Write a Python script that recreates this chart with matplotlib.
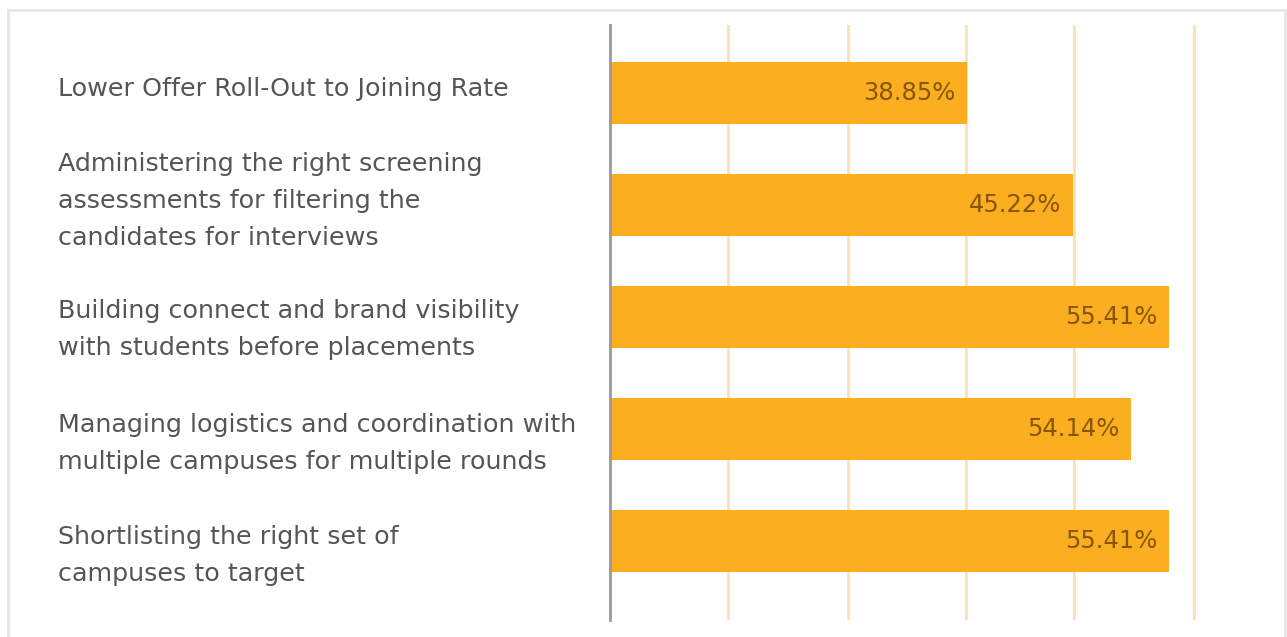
import matplotlib.pyplot as plt
from matplotlib.patches import Rectangle
from matplotlib.transforms import blended_transform_factory, offset_copy

# data
categories = [
    "Lower Offer Roll-Out to Joining Rate",
    "Administering the right screening\nassessments for filtering the\ncandidates for interviews",
    "Building connect and brand visibility\nwith students before placements",
    "Managing logistics and coordination with\nmultiple campuses for multiple rounds",
    "Shortlisting the right set of\ncampuses to target",
]
value_labels = ["38.85%", "45.22%", "55.41%", "54.14%", "55.41%"]
# bar lengths as drawn in the reference (axis units, one grid step ~ 10)
bar_lengths = [30.1, 39.0, 47.1, 43.9, 47.1]
grid_positions = [9.95, 20.1, 30.0, 39.1, 49.2]

bar_color = "#FBAE1F"
label_color = "#875600"
grid_color = "#FFE0B0"
text_color = "#555555"

plt.rcParams['font.family'] = ['DejaVu Sans']

fig = plt.figure(figsize=(12.87, 6.37), dpi=100)
W, H = 1287, 637

# light frame around the card
fig.patches.append(Rectangle((8 / W, -0.05), (1285 - 8) / W, 1.05 - 10 / H,
                             transform=fig.transFigure, fill=False,
                             edgecolor="#E6E6E6", linewidth=2))

ax = fig.add_axes([610 / W, 1 - 620 / H, (1240 - 610) / W, (620 - 25) / H])
px_per_unit = 118.6 / 10
ax.set_xlim(0, (1240 - 610) / px_per_unit)
ax.set_ylim(4.705, -0.607)

for g in grid_positions:
    ax.axvline(g, color=grid_color, linewidth=2, zorder=0)

ypos = range(len(categories))
ax.barh(ypos, bar_lengths, height=0.555, color=bar_color, zorder=2)

for y, length, lab in zip(ypos, bar_lengths, value_labels):
    ax.text(length - 11 / px_per_unit, y, lab, ha='right', va='center',
            color=label_color, fontsize=17.5, zorder=3)

# category labels sit a little off the bar centre in the original (px, down)
label_shift = [-4, -4, 12.5, 14.5, 14.5]
trans = blended_transform_factory(fig.transFigure, ax.transData)
for y, cat, dy in zip(ypos, categories, label_shift):
    t = offset_copy(trans, fig=fig, x=0, y=-dy * 0.72, units='points')
    ax.text(58 / W, y, cat, transform=t, ha='left', va='center',
            color=text_color, fontsize=18.3, linespacing=1.68)

for side in ['top', 'right', 'bottom']:
    ax.spines[side].set_visible(False)
ax.spines['left'].set_color("#999999")
ax.spines['left'].set_linewidth(2)
ax.set_xticks([])
ax.set_yticks([])
ax.patch.set_alpha(0)

fig.savefig("out.png", dpi=100)
